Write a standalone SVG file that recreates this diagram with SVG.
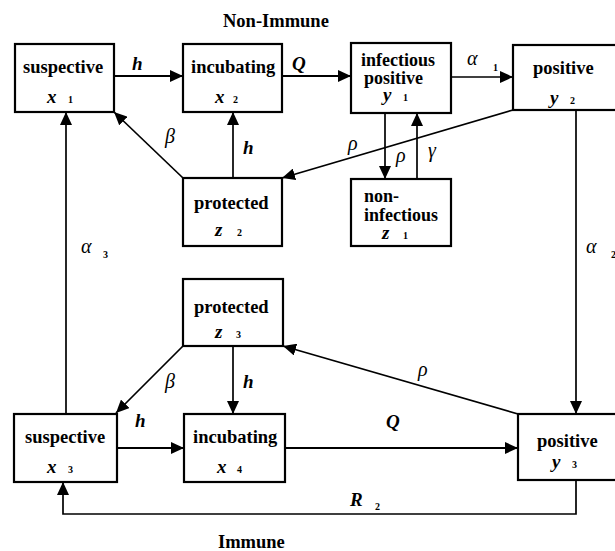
<svg xmlns="http://www.w3.org/2000/svg" width="615" height="551" viewBox="0 0 615 551">
<style>
.box{fill:#fff;stroke:#000;stroke-width:2.2}
.lbl{font-family:"Liberation Serif",serif;font-weight:bold;font-size:18.5px;fill:#000}
.lbl2{font-family:"Liberation Serif",serif;font-weight:bold;font-size:18px;fill:#000}
.m{font-family:"Liberation Serif",serif;font-style:italic;font-weight:bold;font-size:19px;fill:#000}
.g{font-family:"Liberation Serif",serif;font-style:italic;font-size:20px;fill:#000}
.s{font-family:"Liberation Serif",serif;font-weight:bold;font-size:10px;fill:#000}
.c{fill:none;stroke:#000;stroke-width:1.7}
.t{fill:none;stroke:#000;stroke-width:2.2}
</style>
<defs>
<marker id="ah" markerUnits="userSpaceOnUse" markerWidth="14" markerHeight="12" refX="13" refY="6" orient="auto">
<path d="M0,0 L13,6 L0,12 z" fill="#000"/>
</marker>
</defs>
<rect width="615" height="551" fill="#fff"/>
<text class="lbl" x="223" y="27">Non-Immune</text>
<text class="lbl" x="218" y="548">Immune</text>

<g id="connectors">
<line class="t" x1="114" y1="76" x2="183" y2="76" marker-end="url(#ah)"/>
<line class="t" x1="282" y1="76" x2="351" y2="76" marker-end="url(#ah)"/>
<line class="c" x1="451" y1="77" x2="513" y2="77" marker-end="url(#ah)"/>
<line class="c" x1="513" y1="110" x2="282" y2="178" marker-end="url(#ah)"/>
<line class="c" x1="385" y1="113" x2="385" y2="179" marker-end="url(#ah)"/>
<line class="c" x1="417" y1="179" x2="417" y2="113" marker-end="url(#ah)"/>
<line class="c" x1="183" y1="178" x2="114" y2="112" marker-end="url(#ah)"/>
<line class="c" x1="233" y1="178" x2="233" y2="112" marker-end="url(#ah)"/>
<line class="c" x1="576" y1="110" x2="576" y2="414" marker-end="url(#ah)"/>
<line class="c" x1="66" y1="414" x2="66" y2="112" marker-end="url(#ah)"/>
<line class="c" x1="183" y1="346" x2="116" y2="413" marker-end="url(#ah)"/>
<line class="c" x1="233" y1="346" x2="233" y2="414" marker-end="url(#ah)"/>
<line class="t" x1="117" y1="448" x2="184" y2="448" marker-end="url(#ah)"/>
<line class="t" x1="285" y1="448" x2="518" y2="448" marker-end="url(#ah)"/>
<line class="c" x1="518" y1="414" x2="283" y2="346" marker-end="url(#ah)"/>
<polyline class="c" points="576,480 576,514 63,514 63,482" marker-end="url(#ah)"/>
<text class="m" x="132" y="70">h</text>
<text class="m" x="292" y="70">Q</text>
<text class="g" x="467" y="65">α</text><text class="s" x="493" y="71">1</text>
<text class="g" x="165" y="143">β</text>
<text class="m" x="243" y="154">h</text>
<text class="g" x="348" y="150">ρ</text>
<text class="g" x="396" y="162">ρ</text>
<text class="g" x="428" y="157">γ</text>
<text class="g" x="586" y="253">α</text><text class="s" x="611" y="258">2</text>
<text class="g" x="81" y="253">α</text><text class="s" x="103" y="258">3</text>
<text class="g" x="165" y="388">β</text>
<text class="m" x="243" y="388">h</text>
<text class="g" x="418" y="376">ρ</text>
<text class="m" x="135" y="427">h</text>
<text class="m" x="386" y="428">Q</text>
<text class="m" x="350" y="506">R</text><text class="s" x="375" y="510">2</text>
</g>

<g id="x1">
<rect class="box" x="15" y="44" width="99" height="68"/>
<text class="lbl" x="23" y="73">suspective</text>
<text class="m" x="47" y="103">x</text><text class="s" x="68" y="103">1</text>
</g>
<g id="x2">
<rect class="box" x="183" y="44" width="99" height="68"/>
<text class="lbl" x="191" y="73">incubating</text>
<text class="m" x="215" y="103">x</text><text class="s" x="233" y="103">2</text>
</g>
<g id="y1">
<rect class="box" x="351" y="43" width="100" height="70"/>
<text class="lbl2" x="361" y="66">infectious</text>
<text class="lbl2" x="364" y="84">positive</text>
<text class="m" x="383" y="101">y</text><text class="s" x="403" y="101">1</text>
</g>
<g id="y2">
<rect class="box" x="513" y="45" width="110" height="65"/>
<text class="lbl" x="533" y="74">positive</text>
<text class="m" x="550" y="104">y</text><text class="s" x="570" y="104">2</text>
</g>
<g id="z2">
<rect class="box" x="183" y="178" width="99" height="68"/>
<text class="lbl" x="194" y="209">protected</text>
<text class="m" x="215" y="236">z</text><text class="s" x="237" y="236">2</text>
</g>
<g id="z1">
<rect class="box" x="351" y="179" width="100" height="67"/>
<text class="lbl2" x="364" y="202">non-</text>
<text class="lbl2" x="364" y="221">infectious</text>
<text class="m" x="382" y="239">z</text><text class="s" x="403" y="239">1</text>
</g>
<g id="z3">
<rect class="box" x="183" y="279" width="100" height="67"/>
<text class="lbl" x="194" y="313">protected</text>
<text class="m" x="215" y="338">z</text><text class="s" x="236" y="338">3</text>
</g>
<g id="x3">
<rect class="box" x="14" y="414" width="103" height="68"/>
<text class="lbl" x="25" y="443">suspective</text>
<text class="m" x="47" y="473">x</text><text class="s" x="68" y="473">3</text>
</g>
<g id="x4">
<rect class="box" x="184" y="414" width="101" height="68"/>
<text class="lbl" x="193" y="443">incubating</text>
<text class="m" x="217" y="473">x</text><text class="s" x="237" y="473">4</text>
</g>
<g id="y3">
<rect class="box" x="518" y="414" width="105" height="66"/>
<text class="lbl" x="537" y="447">positive</text>
<text class="m" x="552" y="468">y</text><text class="s" x="572" y="468">3</text>
</g>
</svg>
